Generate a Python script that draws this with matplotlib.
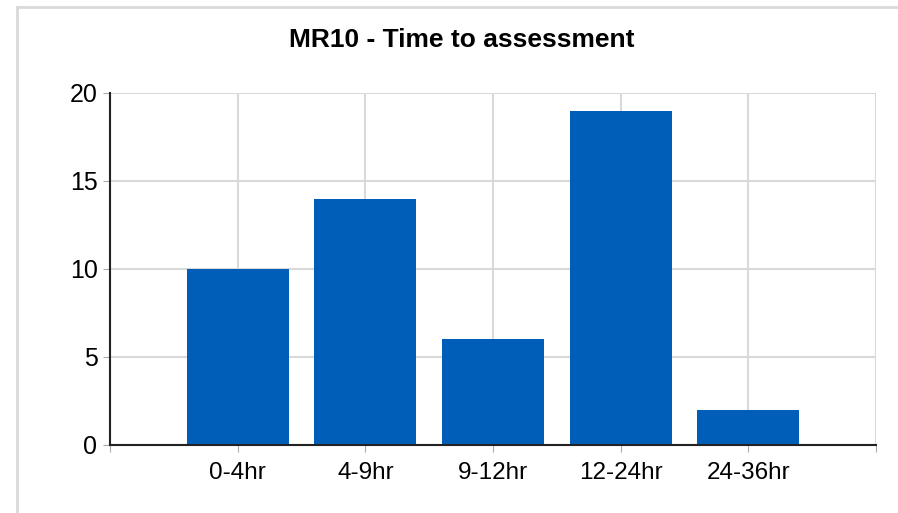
import matplotlib
matplotlib.use("Agg")
import matplotlib.pyplot as plt
from matplotlib.lines import Line2D

categories = ["0-4hr", "4-9hr", "9-12hr", "12-24hr", "24-36hr"]
counts = [10, 14, 6, 19, 2]
title = "MR10 - Time to assessment"

BAR_COLOR = "#005EB8"
GRID_COLOR = "#d9d9d9"

plt.rcParams["font.family"] = ["Liberation Sans", "DejaVu Sans"]

fig = plt.figure(figsize=(8.98, 5.13), dpi=100)
ax = fig.add_axes([110 / 898, 68 / 513, 766 / 898, 352 / 513])

pos = list(range(1, len(categories) + 1))
ax.bar(pos, counts, width=0.8, color=BAR_COLOR, zorder=3)

ax.set_xlim(0, len(categories) + 1)
ax.set_ylim(0, 20)
ax.set_yticks([0, 5, 10, 15, 20])
ax.set_xticks(range(0, len(categories) + 2))
ax.set_xticklabels([""] + categories + [""], fontsize=17.5)
ax.tick_params(axis="y", labelsize=18, length=5, color="#aaaaaa", pad=4)
ax.tick_params(axis="x", length=5, color="#aaaaaa", pad=7)

ax.grid(True, color=GRID_COLOR, lw=1.5, zorder=0)
for s in ["top", "right"]:
    ax.spines[s].set_visible(False)
for s in ["left", "bottom"]:
    ax.spines[s].set_color("#222222")
    ax.spines[s].set_linewidth(1.5)
    ax.spines[s].set_zorder(4)

fig.text(462 / 898, 1 - 40 / 513, title, ha="center", va="center",
         fontsize=19, fontweight="bold")

# frame lines around the picture
fig.add_artist(Line2D([17 / 898, 17 / 898], [0, 1 - 7 / 513],
                      color=GRID_COLOR, lw=2, transform=fig.transFigure))
fig.add_artist(Line2D([17 / 898, 1], [1 - 7 / 513, 1 - 7 / 513],
                      color=GRID_COLOR, lw=2, transform=fig.transFigure))

fig.savefig("out.png")
